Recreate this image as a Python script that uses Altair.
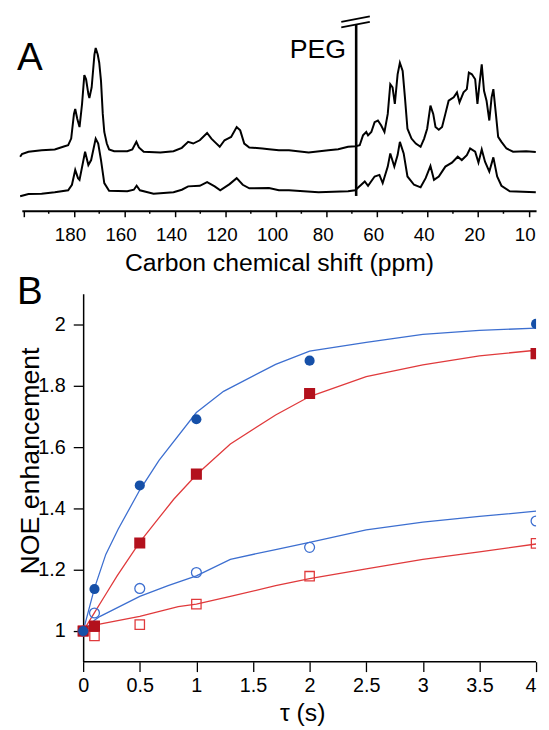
import altair as alt
import pandas as pd

FONT = "Liberation Sans"

# ---------------- Panel A: 13C spectra (ppm, intensity in arbitrary units) ----------------
TOP_PPM = [201.3, 200.6, 198.0, 192.8, 187.6, 183.7, 182.3, 181.1, 180.0, 179.5,
           178.7, 177.8, 176.8, 175.9, 175.2, 174.3, 173.9, 173.0, 171.9, 171.4,
           170.6, 170.0, 169.3, 168.6, 168.0, 167.0, 166.1, 164.1, 158.9, 156.9,
           155.3, 154.3, 152.4, 145.8, 140.6, 137.3, 134.8, 132.8, 130.2, 127.3,
           125.6, 124.3, 122.3, 120.4, 119.1, 117.8, 115.6, 114.2, 112.6, 110.6,
           105.4, 102.8, 98.9, 94.9, 87.1, 79.3, 75.4, 71.5, 68.5, 66.9,
           65.6, 64.3, 63.6, 62.3, 61.0, 59.7, 58.4, 57.1, 55.8, 54.8,
           53.9, 53.0, 51.9, 51.0, 49.9, 49.0, 48.0, 46.4, 44.7, 42.8,
           41.4, 40.2, 38.9, 37.8, 36.9, 35.6, 34.3, 33.0, 31.7, 29.7,
           28.4, 27.4, 25.8, 24.5, 23.7, 22.5, 21.2, 20.3, 19.5, 18.6,
           17.7, 16.7, 15.6, 14.7, 14.0, 13.0, 12.1, 10.8, 8.8, 6.2,
           1.0, -2.8]
TOP_INT = [54.7, 57.3, 59.7, 61.3, 62.0, 65.3, 66.3, 73.0, 98.0, 103.0,
           93.0, 84.7, 108.0, 137.3, 133.0, 118.0, 114.0, 124.7, 158.0, 164.7,
           158.0, 149.7, 131.3, 98.0, 79.7, 68.0, 62.0, 60.3, 60.3, 62.0,
           69.7, 64.0, 59.7, 59.0, 60.3, 63.7, 69.7, 68.0, 71.3, 78.7,
           73.0, 69.7, 64.7, 71.3, 73.0, 74.7, 84.7, 81.3, 68.0, 64.0,
           63.0, 62.3, 61.3, 61.3, 59.0, 61.3, 62.3, 64.7, 65.3, 66.3,
           76.3, 79.7, 76.3, 79.7, 89.7, 91.3, 86.3, 79.7, 98.0, 128.0,
           124.7, 108.0, 138.0, 149.7, 141.3, 114.7, 83.0, 73.0, 68.0, 64.7,
           73.0, 83.0, 106.3, 98.0, 84.7, 82.0, 84.7, 98.0, 111.3, 114.7,
           119.7, 109.7, 119.7, 123.0, 139.7, 138.0, 133.0, 108.0, 128.0, 148.0,
           121.3, 111.3, 91.3, 114.7, 123.0, 98.0, 74.7, 69.7, 63.0, 59.7,
           60.3, 59.5]

BOT_PPM = [201.3, 198.0, 192.8, 187.6, 182.3, 180.8, 179.5, 178.4, 177.8, 175.6,
           174.3, 173.2, 171.4, 170.4, 169.3, 168.0, 166.1, 158.9, 156.3, 155.2,
           153.9, 148.5, 140.6, 137.3, 134.8, 130.2, 127.3, 124.3, 122.1, 118.4,
           115.6, 113.2, 110.6, 102.8, 98.9, 94.9, 83.2, 71.5, 68.7, 66.3,
           64.9, 63.6, 61.0, 59.1, 57.8, 55.8, 54.8, 53.2, 51.9, 51.0,
           49.5, 48.0, 45.4, 42.8, 40.8, 38.9, 37.5, 35.6, 33.0, 30.4,
           28.1, 26.5, 24.5, 23.2, 21.2, 19.9, 18.6, 17.3, 15.6, 14.0,
           12.5, 10.8, 7.5, -2.8]
BOT_INT = [14.7, 17.0, 17.3, 18.7, 20.7, 26.3, 41.3, 33.0, 31.3, 59.7,
           46.3, 51.3, 73.0, 68.0, 51.3, 28.0, 20.3, 19.7, 21.3, 25.3,
           20.7, 17.3, 18.7, 21.3, 24.7, 25.3, 29.0, 24.7, 20.7, 27.0,
           33.0, 26.3, 22.7, 23.0, 20.7, 20.7, 18.7, 19.7, 20.7, 26.3,
           29.7, 25.3, 34.7, 36.3, 28.0, 44.7, 58.0, 44.7, 56.3, 69.7,
           58.0, 34.7, 26.3, 23.7, 33.0, 45.3, 31.3, 34.7, 44.7, 48.7,
           54.7, 51.3, 56.3, 63.0, 59.7, 48.7, 62.0, 49.7, 39.7, 54.0,
           34.7, 25.3, 19.7, 18.7]

PEG_PPM = 68.3          # PEG peak position
PEG_LOW, PEG_HIGH = 15.0, 188.0   # truncated PEG peak (bottom / top)
BREAK_X = [74.2, 62.9]  # break-mark ends (ppm)
BREAK_Y1 = [191.0, 196.5]
BREAK_Y2 = [185.5, 191.0]

A_MAJOR = list(range(0, 201, 20))
A_MINOR = list(range(10, 200, 20))

# ---------------- Panel B: NOE build-up ----------------
TAU = [0, 0.1, 0.5, 1, 2, 4]
FILLED_CIRCLE = [1.0, 1.137, 1.475, 1.691, 1.882, 2.002]
FILLED_SQUARE = [1.0, 1.016, 1.287, 1.512, 1.775, 1.905]
OPEN_CIRCLE = [1.0, 1.059, 1.139, 1.191, 1.273, 1.359]
OPEN_SQUARE = [1.0, 0.984, 1.021, 1.088, 1.179, 1.286]

FIT_FC_T = [0, 0.1, 0.2, 0.31, 0.5, 0.67, 1.0, 1.24, 1.7, 2.0, 2.5, 3.0, 3.5, 4.0]
FIT_FC_V = [1.0, 1.14, 1.25, 1.333, 1.46, 1.557, 1.713, 1.782, 1.87, 1.913, 1.942, 1.968, 1.981, 1.988]
FIT_FS_T = [0, 0.1, 0.2, 0.3, 0.5, 0.65, 0.8, 1.0, 1.3, 1.7, 2.0, 2.5, 3.0, 3.5, 4.0]
FIT_FS_V = [1.0, 1.06, 1.12, 1.18, 1.29, 1.36, 1.43, 1.51, 1.61, 1.705, 1.765, 1.83, 1.868, 1.898, 1.916]
FIT_OC_T = [0, 0.1, 0.15, 0.5, 0.75, 1.0, 1.3, 1.7, 2.0, 2.5, 3.0, 3.5, 4.0]
FIT_OC_V = [1.0, 1.035, 1.048, 1.113, 1.148, 1.18, 1.234, 1.266, 1.289, 1.33, 1.355, 1.374, 1.391]
FIT_OS_T = [0, 0.1, 0.5, 0.84, 1.0, 1.3, 1.7, 2.0, 2.5, 3.0, 3.5, 4.0]
FIT_OS_V = [1.0, 1.019, 1.048, 1.08, 1.088, 1.113, 1.148, 1.171, 1.203, 1.234, 1.258, 1.284]

B_XTICKS = [0, 0.5, 1, 1.5, 2, 2.5, 3, 3.5, 4]
B_YTICKS = [1, 1.2, 1.4, 1.6, 1.8, 2]

BLUE_DARK = "#1650a8"
BLUE_LINE = "#3d6fd0"
RED_DARK = "#b3111d"
RED_LINE = "#e03a3c"

W = 520  # common panel width

# ---------------- build panel A ----------------
spec_df = pd.concat([
    pd.DataFrame({"ppm": TOP_PPM, "intensity": TOP_INT, "trace": "top",
                  "k": list(range(len(TOP_PPM)))}),
    pd.DataFrame({"ppm": BOT_PPM, "intensity": BOT_INT, "trace": "bottom",
                  "k": list(range(len(BOT_PPM)))}),
])

xA = alt.X(
    "ppm:Q",
    scale=alt.Scale(domain=[200.63, -2.9], nice=False, zero=False),
    axis=alt.Axis(
        values=A_MAJOR,
        labelExpr="datum.value == 0 ? '10' : (datum.value < 200 ? datum.label : '')",
        labelFontSize=19, labelPadding=9, labelOffset=-4, labelOverlap=False, labelFlush=False,
        tickSize=6, tickWidth=1.5, tickColor="black", domainWidth=2, domainColor="black",
        grid=False, titleFontSize=25, titlePadding=6,
    ),
    title="Carbon chemical shift (ppm)",
)
yA = alt.Y("intensity:Q", scale=alt.Scale(domain=[0, 200], nice=False, zero=False), axis=None)

spectra = alt.Chart(spec_df).mark_line(color="black", strokeWidth=2).encode(
    x=xA, y=yA, detail="trace:N", order="k:Q")

minor_ticks = alt.Chart(pd.DataFrame({"ppm": A_MINOR})).mark_rule(
    color="black", strokeWidth=1.5).encode(x=xA, y=alt.value(200), y2=alt.value(203))

peg_df = pd.DataFrame({"ppm": [PEG_PPM], "intensity": [PEG_LOW], "top": [PEG_HIGH]})
peg_rule = alt.Chart(peg_df).mark_rule(color="black", strokeWidth=2.6).encode(
    x=xA, y=yA, y2="top:Q")

break_df = pd.DataFrame({"ppm": [BREAK_X[0], BREAK_X[0]], "ppm2": [BREAK_X[1], BREAK_X[1]],
                         "intensity": [BREAK_Y1[0], BREAK_Y2[0]], "int2": [BREAK_Y1[1], BREAK_Y2[1]]})
breaks = alt.Chart(break_df).mark_rule(color="black", strokeWidth=1.8).encode(
    x=xA, x2="ppm2:Q", y=yA, y2="int2:Q")

peg_text_df = pd.DataFrame({"ppm": [72.3], "intensity": [155.0], "label": ["PEG"]})
peg_text = alt.Chart(peg_text_df).mark_text(
    align="right", baseline="alphabetic", fontSize=27, font=FONT, color="black"
).encode(x=xA, y=yA, text="label:N")

letter_a = alt.Chart(pd.DataFrame({"t": ["A"]})).mark_text(
    align="left", baseline="alphabetic", fontSize=39, font=FONT, color="black"
).encode(x=alt.value(-5), y=alt.value(58), text="t:N")

panel_a = alt.layer(spectra, minor_ticks, peg_rule, breaks, peg_text, letter_a).properties(
    width=W, height=200)

# ---------------- build panel B ----------------
xB = alt.X(
    "tau:Q",
    scale=alt.Scale(domain=[-0.5415, 4], nice=False, zero=False),
    axis=alt.Axis(values=B_XTICKS, format="~g", labelFontSize=20, labelPadding=4,
                  labelFlush=False, labelOverlap=False,
                  labelAlign={"condition": {"test": "datum.value == 4", "value": "right"}, "value": "center"},
                  tickSize=10, tickWidth=1.3, tickColor="black",
                  domain=False, grid=False, title=None),
)
yB = alt.Y(
    "noe:Q",
    scale=alt.Scale(domain=[0.9, 2.1], nice=False, zero=False),
    axis=alt.Axis(values=B_YTICKS, format="~g", labelFontSize=20, labelPadding=8,
                  labelOverlap=False, labelFlush=False, offset=-62,
                  tickSize=10, tickWidth=1.3, tickColor="black",
                  domainWidth=1.5, domainColor="black", grid=False, title=None),
)

def fit(t, v, color):
    return alt.Chart(pd.DataFrame({"tau": t, "noe": v})).mark_line(
        color=color, strokeWidth=1.3, clip=True).encode(x=xB, y=yB)

def pts(v, shape, color, filled, size):
    kw = dict(shape=shape, size=size, opacity=1, clip=True)
    if filled:
        kw.update(filled=True, color=color)
    else:
        kw.update(filled=False, stroke=color, strokeWidth=1.3, fill="white", fillOpacity=0)
    return alt.Chart(pd.DataFrame({"tau": TAU, "noe": v})).mark_point(**kw).encode(x=xB, y=yB)

x_baseline = alt.Chart(pd.DataFrame({"tau": [min(B_XTICKS)], "tau2": [max(B_XTICKS)]})).mark_rule(
    color="black", strokeWidth=1.5).encode(x=xB, x2="tau2:Q", y=alt.value(372))

letter_b = alt.Chart(pd.DataFrame({"t": ["B"]})).mark_text(
    align="left", baseline="alphabetic", fontSize=39, font=FONT, color="black"
).encode(x=alt.value(-5), y=alt.value(10), text="t:N")

y_title = alt.Chart(pd.DataFrame({"t": ["NOE enhancement"]})).mark_text(
    align="center", baseline="alphabetic", angle=270, fontSize=27, font=FONT, color="black"
).encode(x=alt.value(17), y=alt.value(169), text="t:N")

x_title = alt.Chart(pd.DataFrame({"t": ["τ (s)"]})).mark_text(
    align="center", baseline="alphabetic", fontSize=25, font=FONT, color="black"
).encode(x=alt.value(284), y=alt.value(432), text="t:N")

panel_b = alt.layer(
    x_baseline,
    fit(FIT_FC_T, FIT_FC_V, BLUE_LINE),
    fit(FIT_FS_T, FIT_FS_V, RED_LINE),
    fit(FIT_OC_T, FIT_OC_V, BLUE_LINE),
    fit(FIT_OS_T, FIT_OS_V, RED_LINE),
    pts(OPEN_SQUARE, "square", RED_LINE, False, 90),
    pts(OPEN_CIRCLE, "circle", BLUE_LINE, False, 100),
    pts(FILLED_SQUARE, "square", RED_DARK, True, 125),
    pts(FILLED_CIRCLE, "circle", BLUE_DARK, True, 105),
    letter_b, y_title, x_title,
).properties(width=W, height=372)

chart = alt.vconcat(panel_a, panel_b, spacing=-4).properties(
    padding={"left": 7, "top": 0, "right": 0, "bottom": 0}
).configure_view(stroke="transparent").configure_axis(
    labelFont=FONT, titleFont=FONT, labelColor="black", titleColor="black",
    titleFontWeight="normal"
)

chart.save("out.html", embed_options={"renderer": "svg", "actions": False})
